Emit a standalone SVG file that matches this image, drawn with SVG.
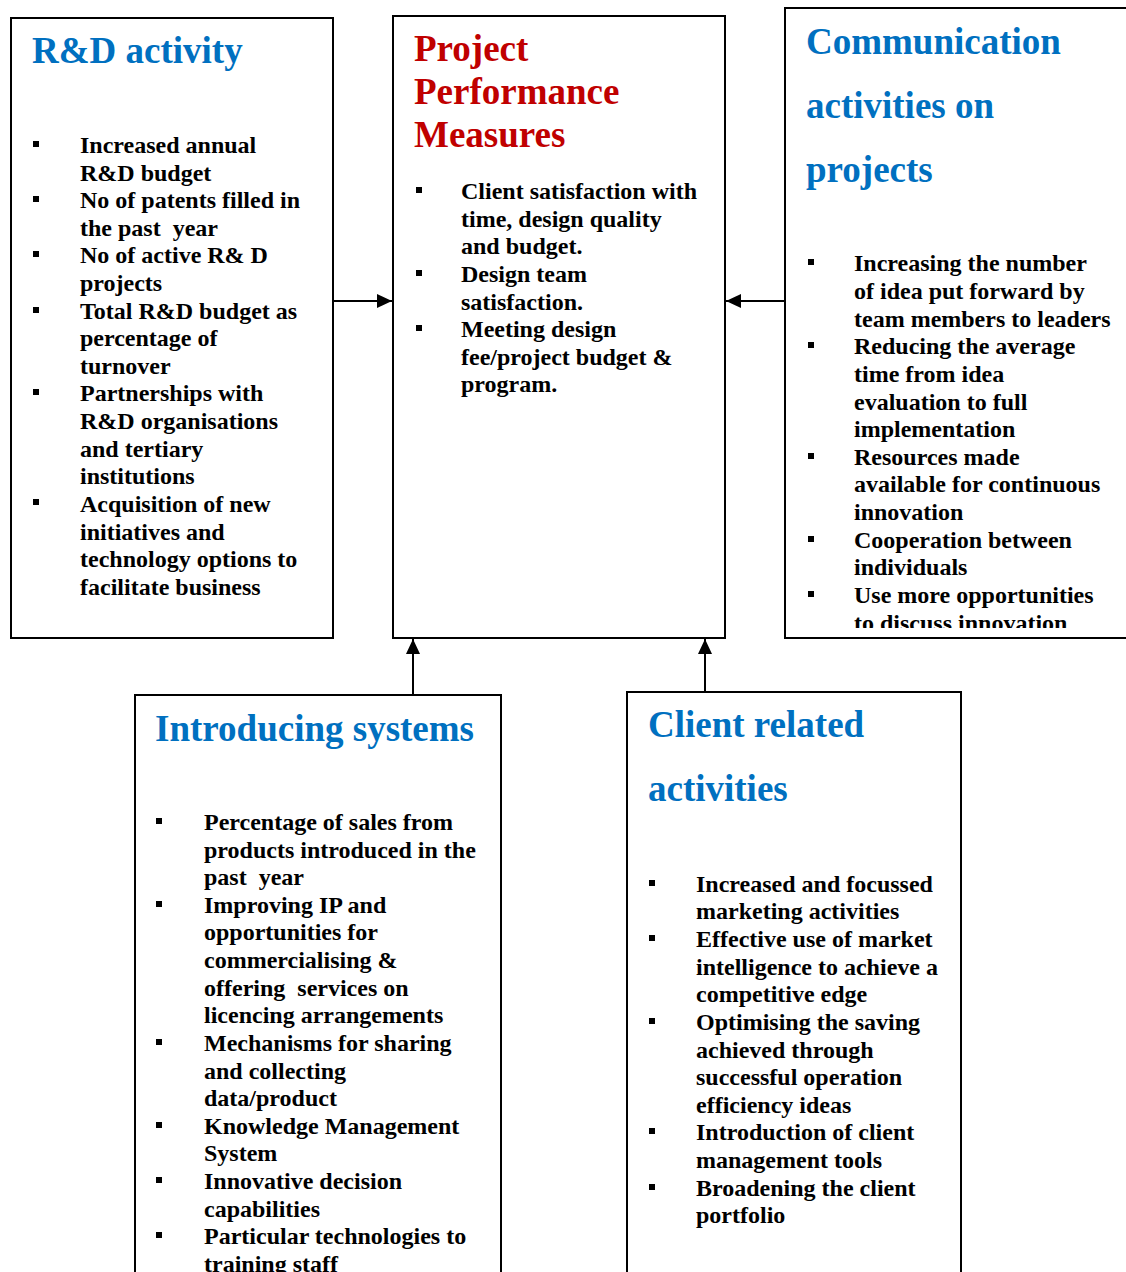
<svg xmlns="http://www.w3.org/2000/svg" width="1126" height="1272" viewBox="0 0 1126 1272">
  <style>
    .box { fill: #ffffff; stroke: #000000; stroke-width: 2; }
    .head { font-family: "Liberation Serif", "Times New Roman", serif; font-weight: bold; font-size: 37px; fill: #0070c0; }
    .head.red { fill: #c00000; }
    .body { font-family: "Liberation Serif", "Times New Roman", serif; font-weight: bold; font-size: 24px; fill: #000000; }
    .bul { fill: #000000; }
    .conn { stroke: #000000; stroke-width: 2; fill: none; }
  </style>
  <defs>
    <marker id="arrow" viewBox="0 0 15 14" refX="15" refY="7" markerWidth="15" markerHeight="14" markerUnits="userSpaceOnUse" orient="auto">
      <path d="M0,0 L15,7 L0,14 Z" fill="#000000"/>
    </marker>
    <clipPath id="clipComm"><rect x="786" y="9" width="340" height="619"/></clipPath>
  </defs>

  <rect width="1126" height="1272" fill="#ffffff"/>

  <!-- connectors -->
  <g id="connectors">
    <line class="conn" x1="333" y1="301" x2="392" y2="301" marker-end="url(#arrow)"/>
    <line class="conn" x1="785" y1="301" x2="726" y2="301" marker-end="url(#arrow)"/>
    <line class="conn" x1="413" y1="695" x2="413" y2="639" marker-end="url(#arrow)"/>
    <line class="conn" x1="705" y1="692" x2="705" y2="639" marker-end="url(#arrow)"/>
  </g>

  <!-- R&D activity -->
  <g id="rd-activity">
    <rect class="box" x="11" y="18" width="322" height="620"/>
    <text class="head" x="32" y="63">R&amp;D activity</text>
    <g class="bul">
      <rect x="33" y="141" width="6" height="6"/>
      <rect x="33" y="196" width="6" height="6"/>
      <rect x="33" y="251" width="6" height="6"/>
      <rect x="33" y="307" width="6" height="6"/>
      <rect x="33" y="389" width="6" height="6"/>
      <rect x="33" y="499" width="6" height="6"/>
    </g>
    <text class="body">
      <tspan x="80" y="153">Increased annual</tspan>
      <tspan x="80" y="181">R&amp;D budget</tspan>
      <tspan x="80" y="208">No of patents filled in</tspan>
      <tspan x="80" y="236" xml:space="preserve">the past  year</tspan>
      <tspan x="80" y="263">No of active R&amp; D</tspan>
      <tspan x="80" y="291">projects</tspan>
      <tspan x="80" y="319">Total R&amp;D budget as</tspan>
      <tspan x="80" y="346">percentage of</tspan>
      <tspan x="80" y="374">turnover</tspan>
      <tspan x="80" y="401">Partnerships with</tspan>
      <tspan x="80" y="429">R&amp;D organisations</tspan>
      <tspan x="80" y="457">and tertiary</tspan>
      <tspan x="80" y="484">institutions</tspan>
      <tspan x="80" y="512">Acquisition of new</tspan>
      <tspan x="80" y="540">initiatives and</tspan>
      <tspan x="80" y="567">technology options to</tspan>
      <tspan x="80" y="595">facilitate business</tspan>
    </text>
  </g>

  <!-- Project Performance Measures -->
  <g id="project-performance">
    <rect class="box" x="393" y="16" width="332" height="622"/>
    <text class="head red">
      <tspan x="414" y="61">Project</tspan>
      <tspan x="414" y="104">Performance</tspan>
      <tspan x="414" y="147">Measures</tspan>
    </text>
    <g class="bul">
      <rect x="416" y="187" width="6" height="6"/>
      <rect x="416" y="270" width="6" height="6"/>
      <rect x="416" y="325" width="6" height="6"/>
    </g>
    <text class="body">
      <tspan x="461" y="199">Client satisfaction with</tspan>
      <tspan x="461" y="227">time, design quality</tspan>
      <tspan x="461" y="254">and budget.</tspan>
      <tspan x="461" y="282">Design team</tspan>
      <tspan x="461" y="310">satisfaction.</tspan>
      <tspan x="461" y="337">Meeting design</tspan>
      <tspan x="461" y="365">fee/project budget &amp;</tspan>
      <tspan x="461" y="392">program.</tspan>
    </text>
  </g>

  <!-- Communication activities on projects -->
  <g id="communication">
    <rect class="box" x="785" y="8" width="345" height="630"/>
    <text class="head">
      <tspan x="806" y="54">Communication</tspan>
      <tspan x="806" y="118">activities on</tspan>
      <tspan x="806" y="182">projects</tspan>
    </text>
    <g class="bul">
      <rect x="808" y="259" width="6" height="6"/>
      <rect x="808" y="342" width="6" height="6"/>
      <rect x="808" y="453" width="6" height="6"/>
      <rect x="808" y="536" width="6" height="6"/>
      <rect x="808" y="591" width="6" height="6"/>
    </g>
    <text class="body" clip-path="url(#clipComm)">
      <tspan x="854" y="271">Increasing the number</tspan>
      <tspan x="854" y="299">of idea put forward by</tspan>
      <tspan x="854" y="327">team members to leaders</tspan>
      <tspan x="854" y="354">Reducing the average</tspan>
      <tspan x="854" y="382">time from idea</tspan>
      <tspan x="854" y="410">evaluation to full</tspan>
      <tspan x="854" y="437">implementation</tspan>
      <tspan x="854" y="465">Resources made</tspan>
      <tspan x="854" y="492">available for continuous</tspan>
      <tspan x="854" y="520">innovation</tspan>
      <tspan x="854" y="548">Cooperation between</tspan>
      <tspan x="854" y="575">individuals</tspan>
      <tspan x="854" y="603">Use more opportunities</tspan>
      <tspan x="854" y="631">to discuss innovation</tspan>
    </text>
  </g>

  <!-- Introducing systems -->
  <g id="introducing-systems">
    <rect class="box" x="135" y="695" width="366" height="600"/>
    <text class="head" x="155" y="741">Introducing systems</text>
    <g class="bul">
      <rect x="156" y="818" width="6" height="6"/>
      <rect x="156" y="901" width="6" height="6"/>
      <rect x="156" y="1039" width="6" height="6"/>
      <rect x="156" y="1122" width="6" height="6"/>
      <rect x="156" y="1177" width="6" height="6"/>
      <rect x="156" y="1232" width="6" height="6"/>
    </g>
    <text class="body">
      <tspan x="204" y="830">Percentage of sales from</tspan>
      <tspan x="204" y="858">products introduced in the</tspan>
      <tspan x="204" y="885" xml:space="preserve">past  year</tspan>
      <tspan x="204" y="913">Improving IP and</tspan>
      <tspan x="204" y="940">opportunities for</tspan>
      <tspan x="204" y="968">commercialising &amp;</tspan>
      <tspan x="204" y="996" xml:space="preserve">offering  services on</tspan>
      <tspan x="204" y="1023">licencing arrangements</tspan>
      <tspan x="204" y="1051">Mechanisms for sharing</tspan>
      <tspan x="204" y="1079">and collecting</tspan>
      <tspan x="204" y="1106">data/product</tspan>
      <tspan x="204" y="1134">Knowledge Management</tspan>
      <tspan x="204" y="1161">System</tspan>
      <tspan x="204" y="1189">Innovative decision</tspan>
      <tspan x="204" y="1217">capabilities</tspan>
      <tspan x="204" y="1244">Particular technologies to</tspan>
      <tspan x="204" y="1272">training staff</tspan>
    </text>
  </g>

  <!-- Client related activities -->
  <g id="client-related">
    <rect class="box" x="627" y="692" width="334" height="600"/>
    <text class="head">
      <tspan x="648" y="737">Client related</tspan>
      <tspan x="648" y="801">activities</tspan>
    </text>
    <g class="bul">
      <rect x="649" y="880" width="6" height="6"/>
      <rect x="649" y="935" width="6" height="6"/>
      <rect x="649" y="1018" width="6" height="6"/>
      <rect x="649" y="1128" width="6" height="6"/>
      <rect x="649" y="1184" width="6" height="6"/>
    </g>
    <text class="body">
      <tspan x="696" y="892">Increased and focussed</tspan>
      <tspan x="696" y="919">marketing activities</tspan>
      <tspan x="696" y="947">Effective use of market</tspan>
      <tspan x="696" y="975">intelligence to achieve a</tspan>
      <tspan x="696" y="1002">competitive edge</tspan>
      <tspan x="696" y="1030">Optimising the saving</tspan>
      <tspan x="696" y="1058">achieved through</tspan>
      <tspan x="696" y="1085">successful operation</tspan>
      <tspan x="696" y="1113">efficiency ideas</tspan>
      <tspan x="696" y="1140">Introduction of client</tspan>
      <tspan x="696" y="1168">management tools</tspan>
      <tspan x="696" y="1196">Broadening the client</tspan>
      <tspan x="696" y="1223">portfolio</tspan>
    </text>
  </g>
</svg>
